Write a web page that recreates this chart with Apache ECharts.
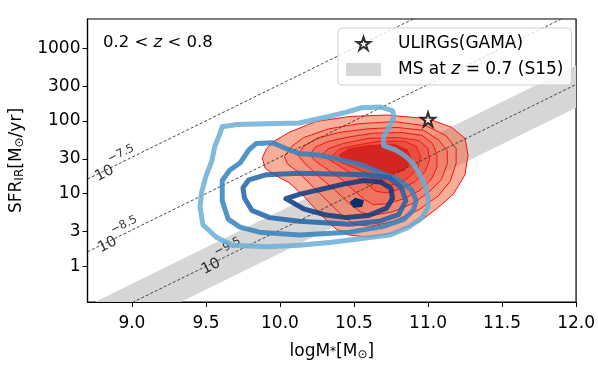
<!DOCTYPE html>
<html><head><meta charset="utf-8">
<script src="https://cdn.jsdelivr.net/npm/echarts@6/dist/echarts.min.js"></script>
<style>html,body{margin:0;padding:0;background:#fff}#c{width:598px;height:366px}</style>
</head><body><div id="c"></div>
<script>
// Axis ranges / ticks
const xRange = [8.7, 12.0];
const yRangeLog = [-0.49, 3.4];           // log10(SFR)
const xTicks = [9.0, 9.5, 10.0, 10.5, 11.0, 11.5, 12.0];
const yTickLabels = [1, 3, 10, 30, 100, 300, 1000];

// constant sSFR guide lines (log10 sSFR) and where their labels sit (logM)
const sSFRLevels = [-7.5, -8.5, -9.5];
const sSFRLabelMass = [8.88, 8.90, 9.60];

// Main sequence band at z=0.7 (S15): logM, lower and upper log SFR
const msMass = [8.7, 12.0];
const msLower = [-1.12, 2.18];
const msUpper = [-0.54, 2.76];

// ULIRG (GAMA) point: [logM, log10 SFR]
const ulirg = [[11.0, 2.02]];

// Blue contour lines (log M, log SFR)
const blue1 = [[9.61,1.92],[9.71,1.95],[9.91,1.96],[10.13,1.97],[10.33,2.06],[10.45,2.12],[10.55,2.18],[10.68,2.19],[10.76,2.14],[10.77,2.06],[10.74,1.92],[10.70,1.78],[10.70,1.66],[10.78,1.60],[10.85,1.51],[10.90,1.41],[10.94,1.28],[10.98,1.11],[11.00,0.94],[11.00,0.81],[10.96,0.67],[10.87,0.54],[10.74,0.43],[10.58,0.39],[10.35,0.33],[10.13,0.29],[9.91,0.27],[9.68,0.29],[9.57,0.40],[9.48,0.57],[9.46,0.81],[9.47,1.01],[9.50,1.24],[9.54,1.45],[9.56,1.65],[9.59,1.80]];
const blue2 = [[9.73,1.42],[9.79,1.60],[9.84,1.69],[9.95,1.70],[10.04,1.62],[10.13,1.55],[10.26,1.53],[10.42,1.46],[10.57,1.38],[10.69,1.28],[10.80,1.19],[10.89,1.05],[10.92,0.90],[10.90,0.77],[10.84,0.65],[10.70,0.55],[10.47,0.47],[10.13,0.43],[9.86,0.47],[9.73,0.54],[9.65,0.65],[9.61,0.90],[9.61,1.18],[9.66,1.32]];
const blue3 = [[9.75,1.08],[9.79,1.19],[9.91,1.26],[10.13,1.28],[10.35,1.27],[10.58,1.26],[10.74,1.22],[10.82,1.08],[10.85,0.90],[10.80,0.71],[10.67,0.62],[10.47,0.58],[10.13,0.62],[9.93,0.67],[9.81,0.77],[9.76,0.94]];
const blue4 = [[10.04,0.93],[10.13,0.99],[10.28,1.06],[10.43,1.13],[10.57,1.18],[10.68,1.16],[10.75,1.07],[10.76,0.93],[10.72,0.80],[10.60,0.70],[10.45,0.67],[10.30,0.71],[10.16,0.79]];
const blueCore = [[10.48,0.88],[10.51,0.93],[10.56,0.90],[10.55,0.83],[10.50,0.82]];

// Red filled contour levels (outer -> inner)
const red0 = [[9.88,1.49],[9.91,1.62],[9.96,1.72],[10.06,1.84],[10.24,1.99],[10.47,2.06],[10.72,2.08],[11.00,2.03],[11.16,1.91],[11.25,1.76],[11.27,1.53],[11.25,1.26],[11.17,0.99],[11.07,0.81],[10.94,0.61],[10.77,0.46],[10.60,0.40],[10.47,0.43],[10.38,0.51],[10.26,0.74],[10.15,0.99],[10.06,1.15],[9.96,1.26],[9.90,1.35]];
const red1 = [[10.03,1.51],[10.08,1.65],[10.16,1.77],[10.33,1.89],[10.53,1.96],[10.77,1.99],[10.99,1.93],[11.12,1.80],[11.19,1.62],[11.19,1.42],[11.15,1.17],[11.07,0.97],[10.94,0.78],[10.77,0.62],[10.61,0.55],[10.50,0.58],[10.42,0.70],[10.32,0.90],[10.21,1.12],[10.12,1.30],[10.05,1.41]];
const red2 = [[10.12,1.53],[10.16,1.65],[10.25,1.76],[10.40,1.84],[10.59,1.89],[10.79,1.91],[10.97,1.87],[11.07,1.74],[11.13,1.59],[11.13,1.41],[11.09,1.19],[11.00,1.01],[10.89,0.86],[10.76,0.75],[10.63,0.70],[10.55,0.74],[10.47,0.86],[10.37,1.05],[10.26,1.24],[10.17,1.41]];
const red3 = [[10.20,1.53],[10.24,1.64],[10.33,1.72],[10.47,1.78],[10.63,1.83],[10.82,1.84],[10.96,1.80],[11.03,1.69],[11.06,1.54],[11.06,1.36],[11.02,1.19],[10.94,1.04],[10.84,0.93],[10.72,0.86],[10.63,0.85],[10.57,0.92],[10.50,1.04],[10.42,1.19],[10.33,1.32],[10.25,1.43]];
const red4 = [[10.28,1.53],[10.33,1.62],[10.43,1.69],[10.60,1.76],[10.80,1.77],[10.94,1.73],[11.00,1.62],[11.01,1.46],[10.98,1.30],[10.91,1.16],[10.82,1.07],[10.72,1.01],[10.65,1.03],[10.60,1.11],[10.53,1.22],[10.45,1.32],[10.37,1.42]];
const red5 = [[10.35,1.51],[10.40,1.61],[10.50,1.66],[10.67,1.72],[10.84,1.72],[10.92,1.65],[10.95,1.51],[10.93,1.35],[10.87,1.22],[10.79,1.13],[10.71,1.11],[10.65,1.16],[10.59,1.27],[10.50,1.36],[10.41,1.43]];
const red6 = [[10.40,1.53],[10.47,1.62],[10.60,1.66],[10.77,1.68],[10.86,1.60],[10.89,1.46],[10.84,1.32],[10.75,1.27],[10.63,1.32],[10.52,1.41],[10.43,1.46]];

const FONT = 'DejaVu Sans';
const redLevels = [red0, red1, red2, red3, red4, red5, red6];
const redFills = ['rgba(241,100,60,0.52)','rgba(244,135,112,0.52)','rgba(242,118,98,0.52)','rgba(238,100,82,0.52)','rgba(235,82,66,0.52)','rgba(230,64,50,0.52)','rgba(196,8,10,0.58)'];
const blueLevels = [blue1, blue2, blue3, blue4];
const blueColors = ['#6aaed6', '#3282bd', '#1f63a8', '#0a3a80'];

function polySeries(name, pts, style, z) {
  return {
    type: 'custom', name: name, coordinateSystem: 'cartesian2d', z: z, clip: true, silent: true,
    data: pts, encode: {x: 0, y: 1},
    itemStyle: {color: style.fill && style.fill !== 'none' ? style.fill : style.stroke},
    renderItem: function (params, api) {
      if (params.dataIndex !== 0) return null;
      const points = pts.map(function (p) { return api.coord(p); });
      return {type: 'polygon', shape: {points: points}, style: style};
    }
  };
}

const series = [];
// MS band
const bandPts = [[msMass[0], msLower[0]], [msMass[1], msLower[1]], [msMass[1], msUpper[1]], [msMass[0], msUpper[0]]];
series.push(polySeries('MS at z = 0.7 (S15)', bandPts, {fill: '#d6d6d6', stroke: 'none'}, 1));
// red filled contours
redLevels.forEach(function (pts, i) {
  series.push(polySeries('red' + i, pts, {fill: redFills[i], stroke: '#f21414', lineWidth: 1}, 2 + i * 0.01));
});
// sSFR dashed lines
sSFRLevels.forEach(function (lv) {
  series.push({
    type: 'line', z: 3, silent: true, symbol: 'none', clip: true,
    data: [[xRange[0], xRange[0] + lv], [xRange[1], xRange[1] + lv]],
    lineStyle: {color: '#333', width: 0.9, type: [3, 2]}
  });
});
// sSFR labels
series.push({
  type: 'scatter', z: 3, silent: true, symbolSize: 0,
  data: sSFRLevels.map(function (lv, i) { return [sSFRLabelMass[i], sSFRLabelMass[i] + lv, lv]; }),
  label: {
    show: true, position: 'inside', rotate: 26.4, offset: [2, -2],
    textBorderWidth: 0, textBorderColor: 'transparent', color: '#000',
    formatter: function (p) { return '{b|10}{s|\u2212' + Math.abs(p.value[2]).toFixed(1) + '}'; },
    rich: {
      b: {fontSize: 15, fontFamily: FONT, color: '#000', lineHeight: 24, verticalAlign: 'bottom', textBorderWidth: 0},
      s: {fontSize: 11.5, fontFamily: FONT, color: '#000', lineHeight: 24, verticalAlign: 'top', textBorderWidth: 0}
    }
  }
});
// blue contour lines
blueLevels.forEach(function (pts, i) {
  series.push(polySeries('blue' + i, pts, {fill: 'none', stroke: blueColors[i], lineWidth: 5, lineJoin: 'round', opacity: 0.85}, 4 + i * 0.01));
});
series.push(polySeries('bluecore', blueCore, {fill: '#08306b', stroke: '#08306b', lineWidth: 2, lineJoin: 'round'}, 4.1));
// ULIRG star
const STAR = 'path://M50,2 L61,36 L97,36 L68,57 L79,92 L50,70 L21,92 L32,57 L3,36 L39,36 Z';
series.push({
  type: 'scatter', name: 'ULIRGs(GAMA)', z: 5, symbol: STAR, symbolSize: 14,
  data: ulirg,
  itemStyle: {color: '#fff', borderColor: '#000', borderWidth: 2}
});

const chart = echarts.init(document.getElementById('c'), null, {renderer: 'canvas'});
chart.setOption({
  animation: false,
  backgroundColor: '#fff',
  textStyle: {fontFamily: FONT},
  title: {
    text: '0.2 < {i|z} < 0.8', left: 98, top: 29,
    textStyle: {fontSize: 16.5, fontWeight: 'normal', fontFamily: FONT, color: '#000',
      rich: {i: {fontSize: 16.5, fontStyle: 'italic', fontFamily: FONT, color: '#000'}}}
  },
  legend: {
    orient: 'vertical', left: 338, top: 28,
    padding: [7, 8, 7, 8], itemGap: 9, itemWidth: 35, itemHeight: 13,
    backgroundColor: 'rgba(255,255,255,0.8)', borderColor: '#cfcfcf', borderWidth: 1, borderRadius: 4,
    data: [{name: 'ULIRGs(GAMA)', icon: STAR}, {name: 'MS at z = 0.7 (S15)', icon: 'rect'}],
    formatter: function (n) { return n === 'ULIRGs(GAMA)' ? n : 'MS at {i|z} = 0.7 (S15)'; },
    textStyle: {fontSize: 17, fontFamily: FONT, color: '#000', padding: [0, 0, 0, 12],
      rich: {i: {fontSize: 17, fontStyle: 'italic', fontFamily: FONT, color: '#000'}}}
  },
  grid: {left: 87, right: 20, top: 19, bottom: 60, show: true, borderColor: '#000', borderWidth: 1.2, backgroundColor: 'transparent'},
  xAxis: {
    type: 'value', min: xRange[0], max: xRange[1],
    name: 'logM{s|*}[M{u|\u2299}]', nameLocation: 'middle', nameGap: 41,
    nameTextStyle: {fontSize: 17, fontFamily: FONT, color: '#000',
      rich: {s: {fontSize: 12, fontFamily: FONT, color: '#000', verticalAlign: 'middle'},
             u: {fontSize: 12, fontFamily: FONT, color: '#000', verticalAlign: 'bottom', padding: [6, 0, 0, 0]}}},
    axisLine: {show: true, onZero: false, lineStyle: {color: '#000', width: 1.2}},
    axisTick: {show: true, inside: false, length: 5, lineStyle: {color: '#000', width: 1}, customValues: xTicks},
    axisLabel: {show: true, fontSize: 17, fontFamily: FONT, color: '#000', margin: 13, customValues: xTicks,
      formatter: function (v) { return Number(v).toFixed(1); }},
    splitLine: {show: false}
  },
  yAxis: {
    type: 'value', min: yRangeLog[0], max: yRangeLog[1],
    name: 'SFR{u|IR}[M{u|\u2299}/yr]', nameLocation: 'middle', nameGap: 62,
    nameTextStyle: {fontSize: 17, fontFamily: FONT, color: '#000',
      rich: {u: {fontSize: 12, fontFamily: FONT, color: '#000', verticalAlign: 'bottom', padding: [6, 0, 0, 0]}}},
    axisLine: {show: true, onZero: false, lineStyle: {color: '#000', width: 1.2}},
    axisTick: {show: true, inside: false, length: 5, lineStyle: {color: '#000', width: 1}, customValues: yTickLabels.map(function (v) { return Math.log10(v); })},
    axisLabel: {show: true, fontSize: 17, fontFamily: FONT, color: '#000', margin: 7,
      customValues: yTickLabels.map(function (v) { return Math.log10(v); }),
      formatter: function (v) { return String(Math.round(Math.pow(10, v))); }},
    splitLine: {show: false}
  },
  series: series
});
</script></body></html>
